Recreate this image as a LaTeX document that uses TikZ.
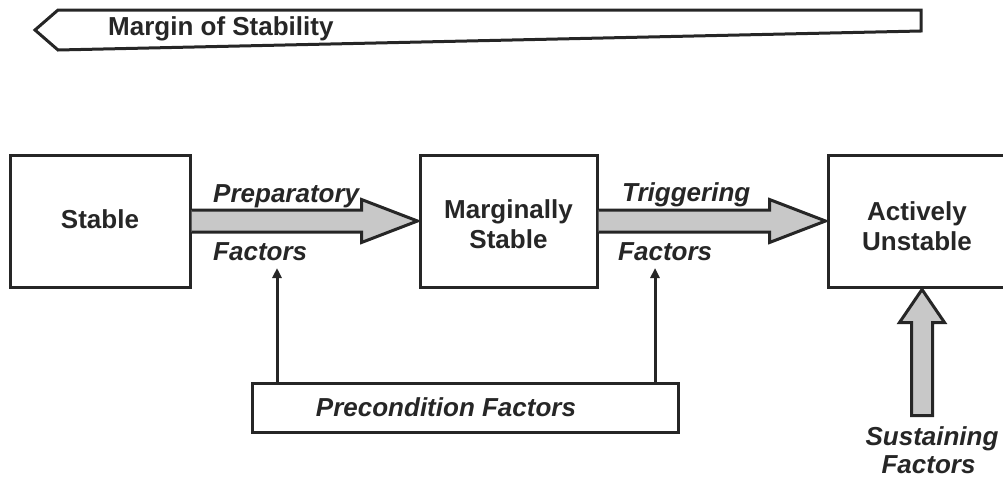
\documentclass[tikz,border=0pt]{standalone}
\usepackage{fontspec}
\setmainfont{Liberation Sans}
\usetikzlibrary{calc,arrows.meta}
\definecolor{ink}{HTML}{262626}
\definecolor{shade}{HTML}{C8C8C8}
\begin{document}
\begin{tikzpicture}[x=1pt,y=-1pt,
  every node/.style={font=\bfseries\fontsize{26}{30}\selectfont,text=ink,inner sep=0pt},
  box/.style={draw=ink,line width=3pt,align=center},
  lbl/.style={font=\bfseries\itshape\fontsize{26}{30}\selectfont},
  blockarrow/.style={draw=ink,fill=shade,line width=3pt,line join=miter},
  thinarrow/.style={draw=ink,line width=3pt,-{Triangle[length=10pt,width=9pt]}}]
\useasboundingbox (0,0) rectangle (1003,479);

% margin-of-stability wedge
\draw[ink,line width=3pt,line join=miter] (58,10) -- (921,10) -- (921,31) -- (58,50) -- (35,30) -- cycle;
\node[anchor=base west] (title) at (108,35) {Margin of Stability};

% boxes
\node[box,minimum width=180pt,minimum height=132pt,text height=19pt,text depth=5pt] (stable) at (100,221) {Stable};
\node[box,minimum width=177pt,minimum height=132pt,text height=54pt,text depth=0pt] (marg) at (508.5,221) {Marginally\\Stable};
\node[box,minimum width=178pt,minimum height=132pt,text height=58pt,text depth=0pt] (act) at (917,221) {Actively\\Unstable};
\node[box,lbl,minimum width=426pt,minimum height=49pt] (pre) at (465,407.5) {Precondition Factors\hspace*{38pt}};

% block arrows
\path[blockarrow] ($(stable.east)+(0,-11)$) -- ($(marg.west)+(-57,-11)$) -- ($(marg.west)+(-57,-21.5)$)
  -- ($(marg.west)+(-1,0)$) -- ($(marg.west)+(-57,21.5)$) -- ($(marg.west)+(-57,11)$) -- ($(stable.east)+(0,11)$);
\path[blockarrow] ($(marg.east)+(0,-11)$) -- ($(act.west)+(-57,-11)$) -- ($(act.west)+(-57,-21.5)$)
  -- ($(act.west)+(-1,0)$) -- ($(act.west)+(-57,21.5)$) -- ($(act.west)+(-57,11)$) -- ($(marg.east)+(0,11)$);
\path[blockarrow] ($(act.south)+(5,1)$) -- ++(22.5,33) -- ++(-12,0) -- ++(0,93) -- ++(-21,0) -- ++(0,-93) -- ++(-12,0) -- cycle;

% thin arrows from precondition factors
\coordinate (p1) at (277,268);
\coordinate (p2) at (655,268);
\draw[thinarrow] (pre.north -| p1) -- (p1);
\draw[thinarrow] (pre.north -| p2) -- (p2);

% labels
\node[lbl,anchor=base west] (prep) at (213,202) {Preparatory};
\node[lbl,anchor=base west] (pf) at (213,260) {Factors};
\node[lbl,anchor=base west] (trig) at (622,201) {Triggering};
\node[lbl,anchor=base west] (tf) at (618,260) {Factors};
\node[lbl,anchor=base] (sus1) at (932,445) {Sustaining};
\node[lbl,anchor=base] (sus2) at (928.5,473) {Factors};
\end{tikzpicture}
\end{document}
